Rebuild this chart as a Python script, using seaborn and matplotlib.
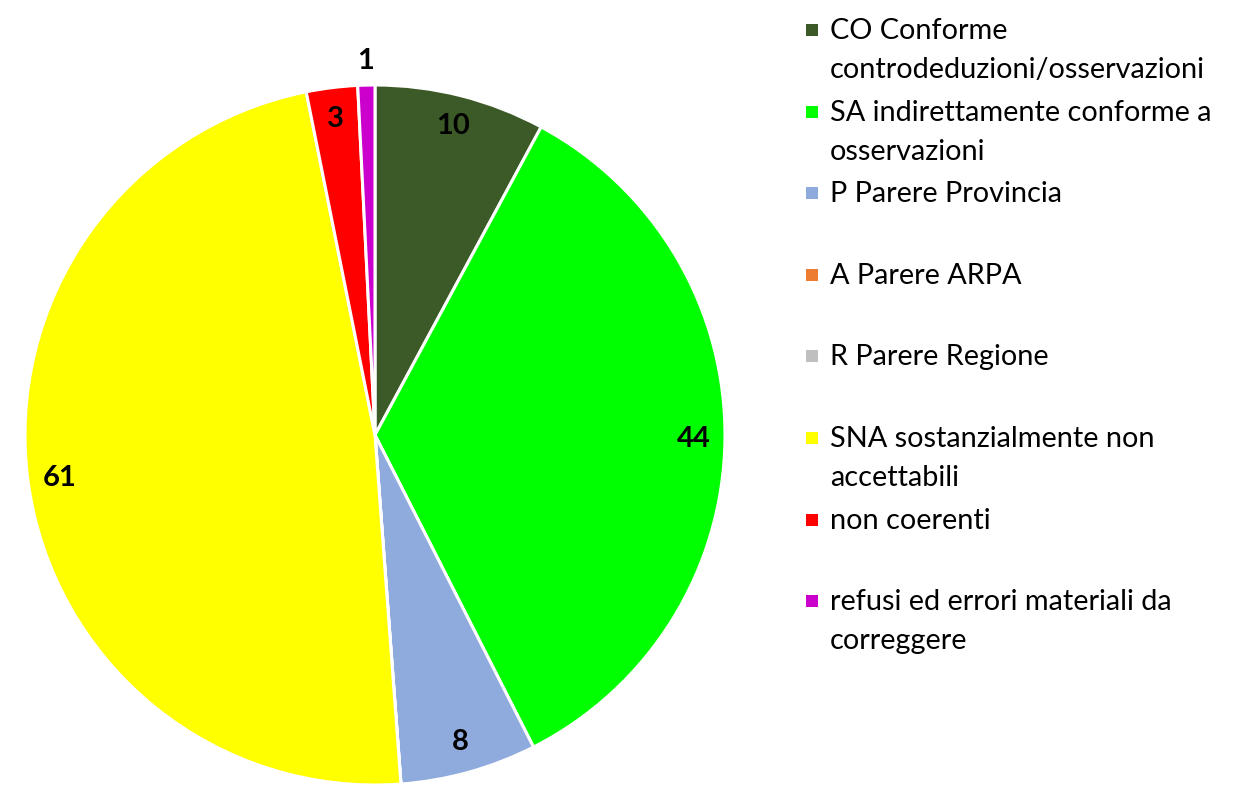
import matplotlib
matplotlib.use("Agg")
import matplotlib.pyplot as plt
import seaborn as sns
import numpy as np
from matplotlib.patches import Rectangle

# data
categories = [
    "CO Conforme\ncontrodeduzioni/osservazioni",
    "SA indirettamente conforme a\nosservazioni",
    "P Parere Provincia",
    "A Parere ARPA",
    "R Parere Regione",
    "SNA sostanzialmente non\naccettabili",
    "non coerenti",
    "refusi ed errori materiali da\ncorreggere",
]
values = [10, 44, 8, 0, 0, 61, 3, 1]
colors = ["#3C5A27", "#00FF00", "#8FAADC", "#ED7D31", "#BFBFBF",
          "#FFFF00", "#FF0000", "#CC00CC"]

sns.set_theme(style="white")
plt.rcParams["font.family"] = ["Lato", "DejaVu Sans"]

W, H = 1255, 785
fig = plt.figure(figsize=(W / 100, H / 100), dpi=100)
ax = fig.add_axes([25 / W, 0 / H, 700 / W, 700 / H])

wedges, _ = ax.pie(values, colors=colors, startangle=90, counterclock=False,
                   wedgeprops=dict(edgecolor="white", linewidth=2.2))
ax.set_xlim(-1, 1)
ax.set_ylim(-1, 1)
ax.set_aspect("equal")
ax.axis("off")

# value labels
total = sum(values)
for w, v in zip(wedges, values):
    if v == 0:
        continue
    ang = np.deg2rad((w.theta1 + w.theta2) / 2)
    r = 1.07 if v / total < 0.02 else 0.91
    ax.text(r * np.cos(ang), r * np.sin(ang), str(v), ha="center", va="center",
            fontsize=21, fontweight="bold", color="black")

# legend drawn by hand (two text lines per entry, marker on the first line)
x_box, x_txt = 806, 830
y0, step, line_h = 39, 81.6, 39
for i, (lab, c) in enumerate(zip(categories, colors)):
    yb = y0 + i * step
    fig.patches.append(Rectangle((x_box / W, 1 - (yb - 3) / H), 12 / W, 12 / H,
                                 transform=fig.transFigure, facecolor=c,
                                 edgecolor="none"))
    for j, line in enumerate(lab.split("\n")):
        fig.text(x_txt / W, 1 - (yb + j * line_h) / H, line, ha="left",
                 va="baseline", fontsize=20.8, color="black")

fig.savefig("out.png", dpi=100)
